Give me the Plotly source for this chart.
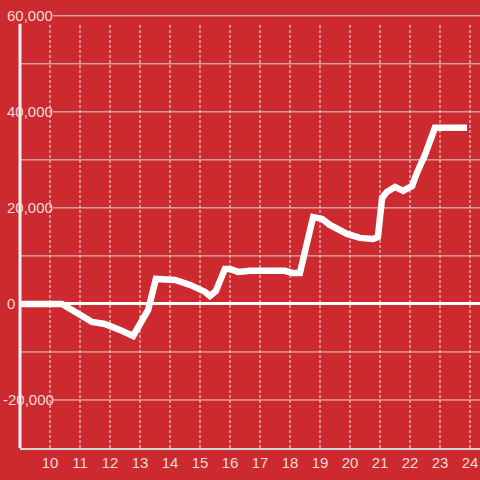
import plotly.graph_objects as go

# Data (hour of day vs cumulative value)
hours = [9.0, 10.4, 11.4, 11.83, 12.33, 12.77, 13.27, 13.53, 14.17, 14.67, 15.17, 15.33,
         15.53, 15.83, 16.0, 16.27, 16.67, 17.83, 18.07, 18.33, 18.77, 19.07, 19.33,
         19.9, 20.33, 20.77, 20.93, 21.07, 21.23, 21.5, 21.77, 22.07, 22.23, 22.5,
         22.83, 23.9]
values = [0, 0, -3750, -4170, -5400, -6670, -1250, 5200, 5000, 3960, 2500, 1670,
          2700, 7300, 7300, 6670, 6900, 6900, 6460, 6460, 18100, 17700, 16460,
          14580, 13750, 13540, 13960, 22080, 23330, 24375, 23540, 24580, 27290, 31040,
          36670, 36670]

x_ticks = list(range(10, 25))
y_grid = list(range(-20000, 60001, 10000))
y_labels = [-20000, 0, 20000, 40000, 60000]

BG = "#CC2A2F"
TXT = "#F3D9D9"
GRID = "#D6D6D6"
FONT = "Liberation Sans, Arial"

x_range = [9, 24.3333]
y_range = [-30000, 61000]
axis_top = 58333

fig = go.Figure()
fig.add_trace(go.Scatter(x=hours, y=values, mode="lines",
                         line=dict(color="white", width=6.5), hoverinfo="skip"))

shapes = []
for h in x_ticks:
    shapes.append(dict(type="line", xref="x", yref="y", x0=h, x1=h,
                       y0=y_range[0], y1=axis_top, layer="below",
                       line=dict(color="#EEEEEE", width=1, dash="3px,2px")))
for v in y_grid:
    if v == 0:
        continue
    x0 = 10.1 if v in y_labels else x_range[0]
    shapes.append(dict(type="line", xref="x", yref="y", x0=x0, x1=x_range[1],
                       y0=v, y1=v, layer="below",
                       line=dict(color=GRID, width=1)))
# y axis line
shapes.append(dict(type="line", xref="paper", yref="y", x0=0, x1=0,
                   y0=y_range[0], y1=axis_top, layer="above",
                   line=dict(color="#F2F2F2", width=3)))

annotations = []
for v in y_labels:
    annotations.append(dict(xref="paper", yref="y", x=0, y=v, xanchor="left",
                            yanchor="middle", showarrow=False,
                            text=f"{v:,}",
                            xshift=-15 - (4 if v < 0 else 0),
                            font=dict(family=FONT, size=15, color=TXT)))

fig.update_layout(
    width=480, height=480,
    margin=dict(l=20, r=0, t=11, b=32, autoexpand=False),
    paper_bgcolor=BG, plot_bgcolor=BG,
    showlegend=False,
    shapes=shapes, annotations=annotations,
    font=dict(family=FONT, size=15, color=TXT),
    xaxis=dict(range=x_range, tickvals=x_ticks, ticktext=[str(t) for t in x_ticks],
               showgrid=False, zeroline=False, showline=True, automargin=False,
               linecolor=GRID, linewidth=1.5, ticks="",
               tickfont=dict(family=FONT, size=15, color=TXT),
               fixedrange=True),
    yaxis=dict(range=y_range, showgrid=False, showticklabels=False, automargin=False,
               zeroline=True, zerolinecolor="white", zerolinewidth=3,
               showline=False, ticks="", fixedrange=True),
)

fig.write_html(
    "out.html",
    config={"displayModeBar": False, "staticPlot": True},
    post_script="document.body.style.margin='0';document.body.style.background='%s';" % BG,
)
